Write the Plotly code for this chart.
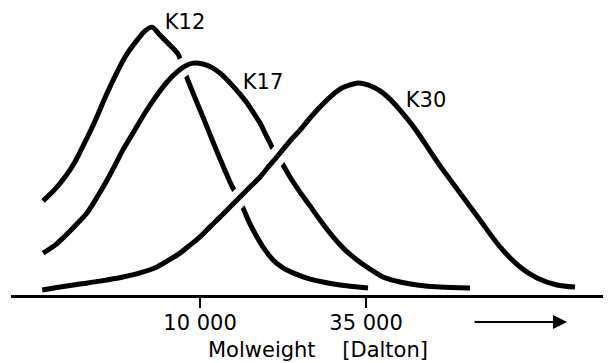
import plotly.graph_objects as go

# Molecular weight distributions of povidone grades (relative frequency, arbitrary units)
k12_mw = [3060, 3350, 3610, 3890, 4200, 4530, 4880, 5270, 5680, 6220, 6600, 6960,
          7390, 7970, 8470, 8930, 9630, 10230, 11030, 11900, 12540, 13020, 13830,
          14580, 15370, 16330, 17350, 18710, 20170, 22940, 25300, 28770, 35530]
k12_freq = [31.9, 35.9, 40.0, 45.1, 51.9, 59.0, 66.8, 74.2, 80.7, 86.4, 89.5, 90.8,
            88.1, 84.7, 81.7, 75.3, 66.8, 60.3, 51.9, 43.7, 38.3, 34.9, 29.5,
            24.1, 19.7, 15.3, 11.9, 9.2, 7.5, 5.4, 4.4, 3.4, 2.4]

k17_mw = [3060, 3350, 3610, 3890, 4260, 4600, 4960, 5270, 5590, 6030, 6600, 7230,
          7800, 8410, 8930, 9490, 10230, 11030, 11810, 12540, 13520, 14260, 15140,
          15730, 16460, 17220, 17880, 18570, 19720, 21270, 22940, 24740, 27290,
          29880, 32690, 36070, 39790, 45240, 51440, 61170, 76740]
k17_freq = [14.2, 16.9, 20.0, 23.4, 27.8, 33.2, 39.0, 44.1, 49.2, 54.9, 61.7, 67.8,
            72.2, 75.6, 77.6, 78.6, 78.3, 76.9, 74.6, 71.9, 68.1, 65.1, 61.0,
            58.3, 54.2, 50.2, 47.5, 44.7, 40.0, 34.9, 30.2, 25.4, 19.7,
            15.3, 11.9, 8.8, 6.1, 4.4, 3.4, 2.7, 2.4]

k30_mw = [3040, 3480, 4040, 4700, 5590, 6360, 7230, 8100, 8600, 9270, 10000, 10780,
          11630, 12540, 13520, 14580, 15730, 16960, 18290, 19720, 21270, 22940,
          24740, 26680, 28770, 31020, 32950, 35530, 38900, 41950, 45240, 48790,
          52610, 56740, 62580, 71140, 82740, 96230, 111900, 127200, 147900, 169500]
k30_freq = [1.7, 2.7, 3.7, 4.7, 6.1, 7.5, 9.5, 12.5, 14.2, 16.9, 19.7, 23.1,
            26.4, 29.8, 33.2, 36.6, 40.0, 44.1, 48.1, 52.2, 55.9, 60.0,
            63.7, 67.1, 69.8, 71.2, 71.9, 71.2, 69.2, 66.4, 62.7, 58.6,
            53.9, 48.8, 42.4, 34.6, 25.4, 16.3, 9.5, 5.8, 3.4, 2.7]

label_text = ["K12", "K17", "K30"]
label_mw = [8930, 16090, 55050]
label_freq = [91.8, 71.5, 65.4]

tick_vals = [10000, 35000]
tick_text = ["10 000", "35 000"]

FONT = "DejaVu Sans"
FS = 21
LW = 5
HALO = 18

fig = go.Figure()

def add_curve(x, y, halo):
    if halo:
        fig.add_trace(go.Scatter(x=x, y=y, mode="lines",
                                 line=dict(color="white", width=HALO, shape="spline", smoothing=0.8),
                                 hoverinfo="skip"))
    fig.add_trace(go.Scatter(x=x, y=y, mode="lines",
                             line=dict(color="black", width=LW, shape="spline", smoothing=0.8),
                             hoverinfo="skip"))

add_curve(k12_mw, k12_freq, False)
add_curve(k17_mw, k17_freq, True)
add_curve(k30_mw, k30_freq, True)

fig.add_trace(go.Scatter(x=label_mw, y=label_freq, mode="text", text=label_text,
                         textposition="middle center",
                         textfont=dict(family=FONT, size=FS, color="black"),
                         hoverinfo="skip"))

# arrow pointing to increasing molweight
fig.add_annotation(x=0.9267, y=-0.0941, xref="paper", yref="paper",
                   ax=-94, ay=0, text="", showarrow=True,
                   arrowhead=2, arrowsize=1.4, arrowwidth=2, arrowcolor="black")

# axis title
fig.add_annotation(x=0.5117, y=0, xref="paper", yref="paper", yanchor="middle",
                   yshift=-55, showarrow=False,
                   text="Molweight&nbsp;&nbsp;&nbsp;&nbsp;[Dalton]",
                   font=dict(family=FONT, size=FS, color="black"))

fig.update_xaxes(type="log", range=[3.3805, 5.3471],
                 showline=True, linewidth=3, linecolor="black",
                 showgrid=False, zeroline=False,
                 ticks="outside", ticklen=10, tickwidth=2, tickcolor="black",
                 tickvals=tick_vals, ticktext=tick_text, ticklabelstandoff=-3,
                 tickfont=dict(family=FONT, size=FS, color="black"))
fig.update_yaxes(visible=False, range=[0, 97.29], showgrid=False, zeroline=False)

# page body adds an 8px margin; size the figure so it fits the 611x363 window
fig.update_layout(width=603, height=355,
                  margin=dict(l=3, r=0, t=0, b=68),
                  plot_bgcolor="white", paper_bgcolor="white",
                  showlegend=False, hovermode=False)

fig.write_html("out.html")
